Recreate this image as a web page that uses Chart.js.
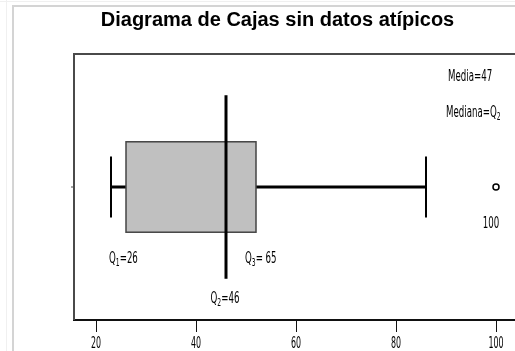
<!DOCTYPE html>
<html>
<head>
<meta charset="utf-8">
<script src="https://cdn.jsdelivr.net/npm/chart.js@4.4.1/dist/chart.umd.min.js"></script>
<style>
  html, body { margin: 0; padding: 0; background: #fff; }
</style>
</head>
<body>
<canvas id="caja" width="515" height="351"></canvas>
<script>
// datos del diagrama
const titulo = 'Diagrama de Cajas sin datos atípicos';
const bigoteInf = [23];
const cuartil1 = [26];
const mediana = [46];
const cuartil3 = [52];
const bigoteSup = [86];
const atipicos = [100];
const xTicks = [20, 40, 60, 80, 100];
const textoQ1 = ['Q', '1', '=26'];
const textoQ2 = ['Q', '2', '=46'];
const textoQ3 = ['Q', '3', '= 65'];
const textoMedia = ['Media=47'];
const textoMediana = ['Mediana=Q', '2'];

const FUENTE = '"Liberation Sans Narrow", "DejaVu Sans Condensed", sans-serif';

// texto estrecho con subindices: partes alternas normal / subindice
function textoSub(ctx, partes, x, y, size, align, sx) {
  sx = sx || 0.64;
  ctx.save();
  ctx.fillStyle = '#000';
  ctx.textBaseline = 'alphabetic';
  ctx.textAlign = 'left';
  let ancho = 0;
  partes.forEach((p, i) => {
    ctx.font = (i % 2 ? size * 0.7 : size) + 'px ' + FUENTE;
    ancho += ctx.measureText(p).width * sx;
  });
  let cx = align === 'center' ? x - ancho / 2 : x;
  partes.forEach((p, i) => {
    const sub = i % 2 === 1;
    ctx.font = (sub ? size * 0.7 : size) + 'px ' + FUENTE;
    ctx.save();
    ctx.translate(cx, y + (sub ? 3 : 0));
    ctx.scale(sx, 1);
    ctx.fillText(p, 0, 0);
    ctx.restore();
    cx += ctx.measureText(p).width * sx;
  });
  ctx.restore();
}

const cajaPlugin = {
  id: 'cajaPlugin',
  beforeDraw(chart) {
    const ctx = chart.ctx;
    ctx.save();
    ctx.fillStyle = '#fff';
    ctx.fillRect(0, 0, chart.width, chart.height);
    // marco gris de la imagen
    ctx.strokeStyle = '#f0f0f0';
    ctx.lineWidth = 1;
    ctx.beginPath();
    ctx.moveTo(0, 1.5); ctx.lineTo(chart.width, 1.5);
    ctx.moveTo(6.5, 0); ctx.lineTo(6.5, chart.height);
    ctx.stroke();
    ctx.strokeStyle = '#d4d4d4';
    ctx.lineWidth = 2;
    ctx.beginPath();
    ctx.moveTo(13, chart.height); ctx.lineTo(13, 6); ctx.lineTo(chart.width, 6);
    ctx.stroke();
    ctx.restore();
  },
  afterDatasetsDraw(chart) {
    const ctx = chart.ctx;
    const xs = chart.scales.x, ys = chart.scales.y;
    const a = chart.chartArea;
    const yc = ys.getPixelForValue(0);
    const yb = v => ys.getPixelForValue(v);
    ctx.save();
    // marco del grafico (izquierda y arriba)
    ctx.strokeStyle = '#4a4a4a';
    ctx.lineWidth = 2;
    ctx.beginPath();
    ctx.moveTo(a.left, a.bottom); ctx.lineTo(a.left, a.top); ctx.lineTo(a.right + 2, a.top);
    ctx.stroke();
    ctx.lineWidth = 1;
    ctx.beginPath();
    ctx.moveTo(a.left - 3, yc); ctx.lineTo(a.left, yc);
    ctx.stroke();

    // etiquetas del eje x
    xTicks.forEach(t => {
      textoSub(ctx, [String(t)], xs.getPixelForValue(t), a.bottom + 28, 16, 'center', 0.55);
    });

    for (let i = 0; i < cuartil1.length; i++) {
      const pMin = xs.getPixelForValue(bigoteInf[i]);
      const p1 = xs.getPixelForValue(cuartil1[i]);
      const pMed = xs.getPixelForValue(mediana[i]);
      const p3 = xs.getPixelForValue(cuartil3[i]);
      const pMax = xs.getPixelForValue(bigoteSup[i]);
      // bigotes
      ctx.strokeStyle = '#000';
      ctx.lineWidth = 3;
      ctx.beginPath();
      ctx.moveTo(pMin, yc); ctx.lineTo(p1, yc);
      ctx.moveTo(p3, yc); ctx.lineTo(pMax, yc);
      ctx.stroke();
      ctx.lineWidth = 2;
      ctx.beginPath();
      ctx.moveTo(pMin, yb(0.23)); ctx.lineTo(pMin, yb(-0.23));
      ctx.moveTo(pMax, yb(0.23)); ctx.lineTo(pMax, yb(-0.23));
      ctx.stroke();
      // caja
      ctx.fillStyle = '#c0c0c0';
      ctx.fillRect(p1, yb(0.34), p3 - p1, yb(-0.34) - yb(0.34));
      ctx.strokeStyle = '#444';
      ctx.lineWidth = 1.5;
      ctx.strokeRect(p1, yb(0.34), p3 - p1, yb(-0.34) - yb(0.34));
      // mediana
      ctx.strokeStyle = '#000';
      ctx.lineWidth = 3;
      ctx.beginPath();
      ctx.moveTo(pMed, yb(0.69)); ctx.lineTo(pMed, yb(-0.69));
      ctx.stroke();

      textoSub(ctx, textoQ1, p1 - 17, yb(-0.57), 15);
      textoSub(ctx, textoQ3, p3 - 11, yb(-0.57), 15);
      textoSub(ctx, textoQ2, pMed - 1, yb(-0.87), 15, 'center');
    }
    atipicos.forEach(v => {
      textoSub(ctx, [String(v)], xs.getPixelForValue(v) - 5, yb(-0.31), 15, 'center');
    });
    textoSub(ctx, textoMedia, 448, yb(0.80), 15);
    textoSub(ctx, textoMediana, 446, yb(0.53), 15);
    ctx.restore();
  }
};

new Chart(document.getElementById('caja'), {
  type: 'scatter',
  data: {
    datasets: [{
      label: 'Atípicos',
      data: atipicos.map(v => ({ x: v, y: 0 })),
      pointStyle: 'circle',
      pointRadius: 3,
      pointBorderWidth: 1.5,
      pointBorderColor: '#000',
      pointBackgroundColor: '#fff'
    }]
  },
  options: {
    responsive: false,
    animation: false,
    layout: { autoPadding: false, padding: { left: 40, right: 0, top: 0, bottom: 0 } },
    plugins: {
      legend: { display: false },
      tooltip: { enabled: false },
      title: {
        display: true,
        text: titulo,
        color: '#000',
        font: { family: '"Liberation Sans", Arial, sans-serif', size: 20, weight: 'bold' },
        padding: { top: 8, bottom: 22 }
      }
    },
    scales: {
      x: {
        type: 'linear',
        min: 15.6,
        max: 103.8,
        afterBuildTicks: s => { s.ticks = xTicks.map(v => ({ value: v })); },
        ticks: { display: false },
        grid: { drawOnChartArea: false, drawTicks: true, tickLength: 12, color: '#111', lineWidth: 1 },
        border: { display: true, color: '#111', width: 2 },
        afterFit: s => { s.height = 31; s.paddingLeft = 0; s.paddingRight = 0; }
      },
      y: {
        type: 'linear',
        min: -1,
        max: 1,
        ticks: { display: false },
        grid: { display: false },
        border: { display: false },
        afterFit: s => { s.width = 34; }
      }
    }
  },
  plugins: [cajaPlugin]
});
</script>
</body>
</html>
